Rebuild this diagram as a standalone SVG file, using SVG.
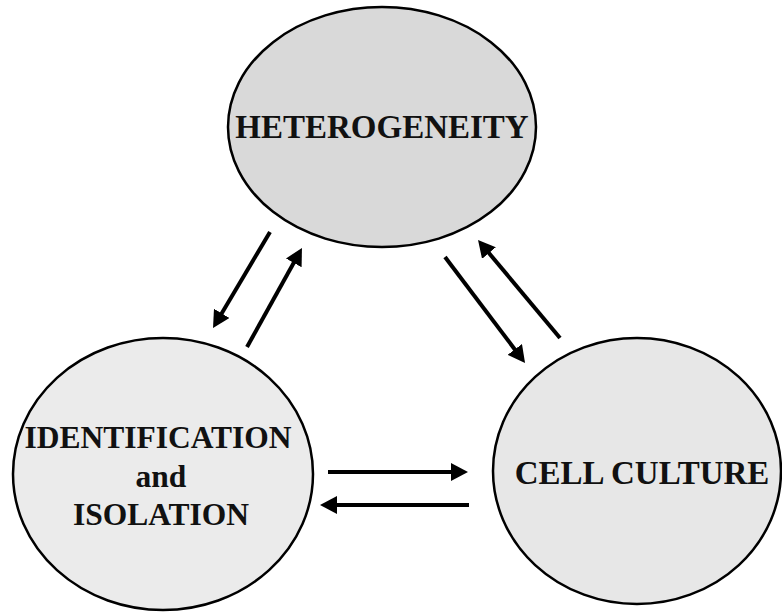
<svg xmlns="http://www.w3.org/2000/svg" width="782" height="615" viewBox="0 0 782 615">
<style>
.node{stroke:#000;stroke-width:2.5}
.lbl{font-family:"Liberation Serif","Times New Roman",serif;font-weight:bold;fill:#111;text-anchor:middle}
.conn{stroke:#000;stroke-width:4;fill:none;marker-end:url(#ah)}
</style>
<defs>
<marker id="ah" viewBox="0 0 17 18" refX="1" refY="9" markerWidth="17" markerHeight="18" markerUnits="userSpaceOnUse" orient="auto">
<path d="M0,0 L17,9 L0,18 z" fill="#000"/>
</marker>
</defs>
<rect width="782" height="615" fill="#fff"/>
<g id="heterogeneity">
<ellipse class="node" cx="382" cy="127" rx="154" ry="120" fill="#d9d9d9"/>
<text class="lbl" x="382" y="138" font-size="33">HETEROGENEITY</text>
</g>
<g id="identification">
<ellipse class="node" cx="163" cy="474" rx="150" ry="136" fill="#ebebeb"/>
<text class="lbl" x="158" y="448" font-size="31.5">IDENTIFICATION</text>
<text class="lbl" x="161" y="487" font-size="31.5">and</text>
<text class="lbl" x="161" y="525" font-size="31.5">ISOLATION</text>
</g>
<g id="cellculture">
<ellipse class="node" cx="637" cy="471" rx="144" ry="133" fill="#e7e7e7"/>
<text class="lbl" x="642" y="484" font-size="33">CELL CULTURE</text>
</g>
<g id="connectors">
<line class="conn" x1="270" y1="232" x2="221.2" y2="314.2"/>
<line class="conn" x1="247" y1="347" x2="294.2" y2="262"/>
<line class="conn" x1="445" y1="257" x2="515.4" y2="350.2"/>
<line class="conn" x1="560" y1="338" x2="488.3" y2="252.3"/>
<line class="conn" x1="328" y1="472" x2="452" y2="472"/>
<line class="conn" x1="469" y1="505" x2="336" y2="505"/>
</g>
</svg>
